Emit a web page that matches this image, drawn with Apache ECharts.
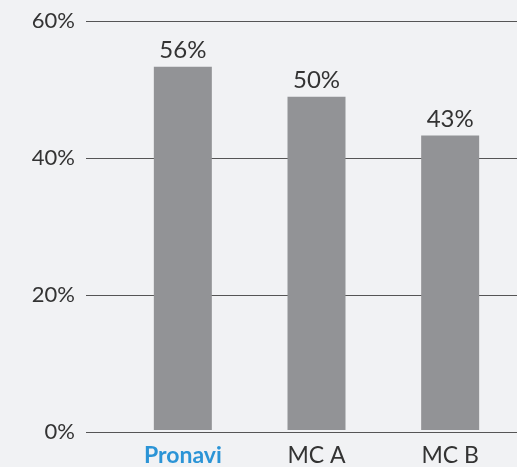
<!DOCTYPE html>
<html>
<head>
<meta charset="utf-8">
<script src="https://cdn.jsdelivr.net/npm/echarts@6/dist/echarts.min.js"></script>
<style>
	html, body { margin: 0; padding: 0; background: #f1f2f4; }
	#chart { width: 517px; height: 467px; }
</style>
</head>
<body>
<div id="chart"></div>
<script>
// data
const categories = ["Pronavi", "MC A", "MC B"];
const barValues = [53.3, 48.9, 43.2];
const barLabels = ["56%", "50%", "43%"];
const yTicks = [0, 20, 40, 60];

const font = "Lato, 'Open Sans', sans-serif";
const textColor = "#333333";

const chart = echarts.init(document.getElementById("chart"));

const option = {
	backgroundColor: "#f1f2f4",
	animation: false,
	grid: [
		// grid 0 only carries the horizontal rules and y labels
		{left: 86, right: 0, top: 21, bottom: 35},
		// grid 1 holds the bars
		{left: 116, right: -2, top: 21, bottom: 35}
	],
	xAxis: [
		{
			gridIndex: 0,
			type: "category",
			data: categories,
			show: false
		},
		{
			gridIndex: 1,
			type: "category",
			data: categories,
			axisLine: {show: false},
			axisTick: {show: false},
			axisLabel: {
				interval: 0,
				margin: 14,
				fontFamily: font,
				fontSize: 23,
				color: textColor,
				formatter: function (v) {
					return v === categories[0] ? "{hl|" + v + "}" : v;
				},
				rich: {
					hl: {
						fontFamily: font,
						fontSize: 23,
						fontWeight: "bold",
						color: "#2b94d6"
					}
				}
			}
		}
	],
	yAxis: [
		{
			gridIndex: 0,
			type: "value",
			min: yTicks[0],
			max: yTicks[yTicks.length - 1],
			interval: 20,
			axisLine: {show: false},
			axisTick: {show: false},
			axisLabel: {
				margin: 11,
				fontFamily: font,
				fontSize: 22,
				color: textColor,
				formatter: "{value}%"
			},
			splitLine: {
				lineStyle: {color: "#555555", width: 1}
			}
		},
		{
			gridIndex: 1,
			type: "value",
			min: yTicks[0],
			max: yTicks[yTicks.length - 1],
			show: false
		}
	],
	series: [
		{
			type: "bar",
			xAxisIndex: 1,
			yAxisIndex: 1,
			data: barValues,
			barWidth: 58,
			itemStyle: {color: "#929396"},
			label: {
				show: true,
				position: "top",
				distance: 4,
				fontFamily: font,
				fontSize: 24,
				color: textColor,
				formatter: function (p) {
					return barLabels[p.dataIndex];
				}
			}
		}
	]
};

chart.setOption(option);
</script>
</body>
</html>
